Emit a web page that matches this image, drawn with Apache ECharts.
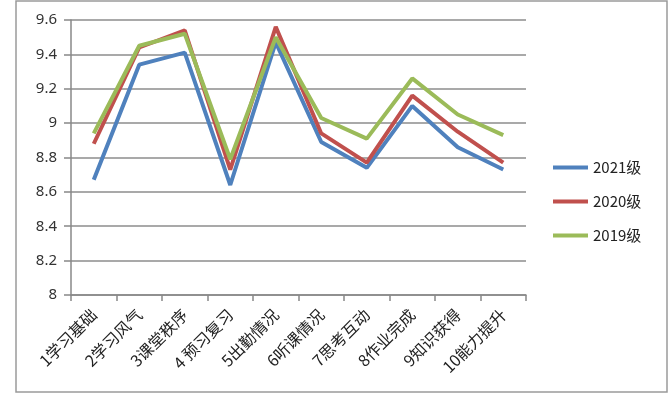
<!DOCTYPE html>
<html><head><meta charset="utf-8">
<script src="https://cdn.jsdelivr.net/npm/echarts@6/dist/echarts.min.js"></script>
<style>html,body{margin:0;padding:0;background:#fff}#c{width:670px;height:396px}</style>
</head><body><div id="c"></div>
<script>
var categories = ['1学习基础','2学习风气','3课堂秩序','4 预习复习','5出勤情况','6听课情况','7思考互动','8作业完成','9知识获得','10能力提升'];
var y2021 = [8.67, 9.34, 9.41, 8.64, 9.47, 8.89, 8.74, 9.10, 8.86, 8.73];
var y2020 = [8.88, 9.44, 9.54, 8.73, 9.56, 8.94, 8.77, 9.16, 8.95, 8.77];
var y2019 = [8.94, 9.45, 9.52, 8.79, 9.50, 9.03, 8.91, 9.26, 9.05, 8.93];
var seriesNames = ['2021级','2020级','2019级'];
var colors = ['#4F81BD','#C0504D','#9BBB59'];

var chart = echarts.init(document.getElementById('c'), null, {renderer:'canvas'});
var font = '"Noto Sans CJK SC","Noto Sans",sans-serif';
function mk(name, data, color){
  return {name:name, type:'line', data:data, symbol:'none', smooth:false,
    lineStyle:{color:color, width:4}, itemStyle:{color:color}, z:3};
}
chart.setOption({
  animation:false,
  graphic:[{type:'rect', shape:{x:16, y:1, width:651, height:391}, style:{fill:null, stroke:'#9a9a9a', lineWidth:1.5}, z:-1}],
  grid:{left:71, right:144, top:20, bottom:101},
  legend:{orient:'vertical', left:548, top:155, itemGap:19, itemWidth:35, itemHeight:4,
    icon:'rect', data:seriesNames,
    textStyle:{fontFamily:font, fontSize:15, color:'#222'}},
  xAxis:{type:'category', data:categories, boundaryGap:true,
    axisLine:{lineStyle:{color:'#888', width:1.5}},
    axisTick:{show:true, alignWithLabel:false, length:6, lineStyle:{color:'#888', width:1.5}},
    axisLabel:{rotate:45, fontFamily:font, fontSize:16, color:'#222', margin:17, interval:0}},
  yAxis:{type:'value', min:8, max:9.6, interval:0.2,
    axisLine:{show:true, lineStyle:{color:'#888', width:1.5}},
    axisTick:{show:true, length:7, lineStyle:{color:'#888', width:1.5}},
    splitLine:{lineStyle:{color:'#8c8c8c', width:1.5}},
    axisLabel:{fontFamily:'"Noto Sans",sans-serif', fontSize:15, color:'#333', margin:14,
      formatter:function(v){return String(Math.round(v*10)/10);}}},
  series:[mk(seriesNames[0], y2021, colors[0]), mk(seriesNames[1], y2020, colors[1]), mk(seriesNames[2], y2019, colors[2])]
});
</script></body></html>
